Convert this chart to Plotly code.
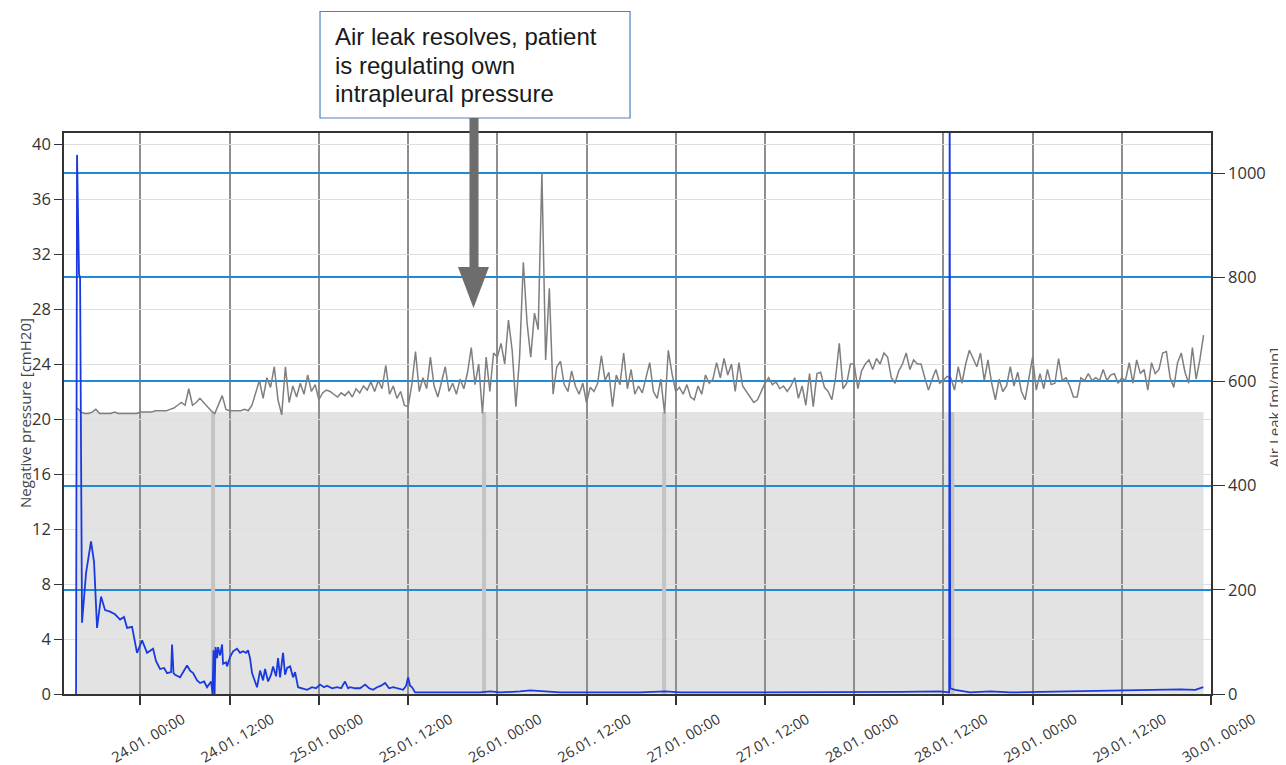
import pandas as pd
import plotly.graph_objects as go

# ---------------- data ----------------
BASE = pd.Timestamp("2024-01-24 00:00")

# negative pressure (grey line), sampled every 30 min from 23.01 15:30
pressure_start = "2024-01-23 15:30"
pressure_step = "30min"
pressure_cmh2o = [
    20.8, 20.5, 20.4, 20.4, 20.5, 20.7, 20.4, 20.4, 20.4, 20.4, 20.5, 20.4, 20.4, 20.4, 20.4, 20.4, 20.4,
    20.5, 20.5, 20.5, 20.5, 20.6, 20.6, 20.6, 20.6, 20.7, 20.8, 21.0, 21.2, 21.0, 22.2, 21.0, 21.2, 21.5, 21.2, 20.9, 20.6, 20.4, 21.0, 21.7, 20.7,
    20.6, 20.6, 20.6, 20.6, 20.7, 20.6, 21.0, 21.9, 22.8, 21.5, 23.0, 22.3, 23.8, 21.4, 20.3, 23.8, 21.2, 22.4, 21.6, 22.6, 21.8, 23.2, 22.0, 22.5,
    21.4, 21.9, 22.1, 22.0, 21.8, 21.6, 21.9, 21.7, 22.0, 21.6, 22.2, 21.9, 22.4, 22.1, 22.7, 22.0, 22.8, 22.2, 23.9, 21.8, 22.4, 21.5, 22.0, 21.0,
    20.9, 22.5, 24.9, 22.0, 23.0, 22.2, 24.5, 22.4, 21.6, 22.8, 23.8, 22.0, 22.6, 21.8, 22.9, 22.2, 23.4, 25.2, 22.5, 24.0, 20.4, 24.5, 22.0, 24.8,
    24.5, 25.5, 24.0, 27.2, 25.0, 20.9, 24.5, 31.4, 27.0, 24.5, 27.7, 26.5, 37.9, 24.3, 29.5, 21.8, 23.8, 24.2, 22.5, 22.0, 23.5, 22.4, 21.8, 22.6,
    21.2, 22.3, 22.0, 22.6, 24.6, 22.8, 23.4, 20.9, 23.2, 22.5, 24.8, 22.2, 23.6, 21.8, 22.4, 21.9, 23.0, 24.1, 22.0, 21.5, 22.9, 20.4, 25.0, 23.3,
    22.0, 22.3, 21.8, 22.5, 21.6, 21.4, 22.4, 21.8, 23.2, 22.6, 22.9, 24.1, 23.0, 24.4, 23.2, 24.0, 22.0, 24.1, 22.4, 22.0, 21.6, 21.2, 21.4, 22.0,
    22.6, 23.0, 22.5, 22.7, 22.2, 22.4, 22.0, 22.4, 23.0, 21.5, 22.4, 21.0, 23.3, 20.9, 23.3, 23.4, 22.3, 22.0, 21.4, 23.0, 25.5, 22.2, 22.6, 24.0,
    24.0, 22.2, 23.5, 24.0, 24.3, 23.6, 24.4, 24.0, 24.8, 24.5, 23.0, 22.6, 23.5, 24.0, 24.8, 23.6, 24.3, 24.0, 24.0, 23.0, 22.1, 22.9, 23.6, 22.6,
    22.8, 23.1, 23.0, 22.1, 23.8, 22.6, 24.0, 25.0, 24.4, 23.8, 24.8, 22.8, 24.3, 22.6, 21.4, 22.9, 22.0, 22.4, 23.8, 22.4, 23.4, 22.0, 21.4, 23.0,
    24.5, 22.1, 23.3, 22.2, 23.6, 22.5, 22.6, 24.4, 22.8, 23.0, 22.4, 21.6, 21.6, 23.0, 22.8, 23.3, 22.8, 23.0, 22.8, 23.6, 22.8, 23.2, 23.3, 22.6,
    23.0, 22.8, 24.1, 22.6, 24.3, 23.3, 23.6, 22.1, 24.1, 23.3, 23.6, 24.8, 24.9, 23.0, 22.3, 24.1, 24.8, 23.4, 22.6, 25.2, 22.9, 24.3, 26.1,
]

# air leak (blue line): hours relative to 24.01 00:00 and ml/min
leak_hours = [
    -8.66, -8.53, -8.26, -8.12, -7.86, -7.32, -6.65, -6.24, -5.84, -5.30, -4.76, -4.09, -3.42, -2.74, -2.21, -1.80,
    -1.13, -0.46, 0.22, 0.89, 1.70, 2.10, 2.64, 3.18, 3.58, 4.12, 4.25, 4.45, 4.65, 5.33, 5.87, 6.27, 6.67, 7.08,
    7.62, 8.02, 8.56, 8.96, 9.50, 9.70, 9.83, 9.97, 10.10, 10.31, 10.44, 10.71, 10.98, 11.11, 11.52, 11.65, 12.05,
    12.46, 12.99, 13.40, 13.80, 14.21, 14.47, 14.74, 15.01, 15.41, 15.68, 16.09, 16.49, 16.76, 17.17, 17.57, 17.84,
    18.24, 18.51, 18.78, 19.18, 19.45, 19.72, 20.13, 20.53, 20.80, 21.20, 21.74, 22.41, 23.08, 23.62, 24.16, 24.70,
    25.10, 25.78, 26.45, 26.99, 27.52, 27.93, 28.20, 28.87, 29.54, 30.22, 30.76, 31.29, 31.83, 32.37, 32.91, 33.45,
    33.99, 34.66, 35.33, 35.74, 36.00, 36.27, 36.54, 36.94, 38.96, 42.99, 45.68, 47.03, 48.37, 51.06, 52.41, 54.43,
    56.45, 61.83, 67.21, 70.57, 72.59, 77.97, 83.35, 88.73, 94.11, 102.18, 107.56, 108.78, 108.85, 108.92, 109.59,
    111.61, 114.30, 116.99, 121.03, 125.06, 129.10, 133.13, 137.17, 139.86, 141.88, 142.96,
]
leak_ml_min = [
    0, 1035, 805, 800, 137, 232, 293, 253, 127, 187, 161, 158, 153, 143, 148, 127,
    129, 79, 103, 79, 87, 63, 48, 50, 40, 42, 95, 40, 37, 32, 45, 55, 45, 40,
    26, 21, 24, 13, 24, 0, 84, 0, 90, 69, 90, 74, 95, 58, 61, 53, 71,
    82, 87, 79, 82, 79, 84, 69, 40, 26, 13, 45, 26, 48, 24, 37, 53,
    34, 69, 32, 79, 37, 50, 53, 32, 42, 13, 11, 8, 13, 11, 18, 13,
    16, 11, 13, 11, 24, 11, 13, 11, 11, 18, 11, 8, 13, 16, 21, 11,
    13, 11, 8, 16, 32, 16, 13, 3, 3, 4, 3, 5, 3, 5, 7, 5,
    3, 3, 3, 5, 3, 3, 3, 3, 4, 4, 5, 3, 1200, 11, 8,
    3, 5, 3, 4, 5, 7, 8, 8, 9, 8, 13,
]

# suction setting (grey area) and short drop-outs of the setting
setpoint_start = "2024-01-23 15:30"
setpoint_end = "2024-01-29 23:00"
setpoint_cmh2o = 20.5
dropout_hours = [9.77, 46.22, 70.44, 109.2]

x_range = ["2024-01-23 13:43", "2024-01-30 00:00"]
left_ticks = [0, 4, 8, 12, 16, 20, 24, 28, 32, 36, 40]
right_ticks = [0, 200, 400, 600, 800, 1000]
left_range = [0, 40.8]
right_range = [0, 1077]

left_title = "Negative pressure [cmH20]"
right_title = "Air Leak [ml/min]"
note_lines = ["Air leak resolves, patient", "is regulating own", "intrapleural pressure"]

# ---------------- figure ----------------
p_times = pd.date_range(pressure_start, periods=len(pressure_cmh2o), freq=pressure_step)
leak_times = [BASE + pd.Timedelta(hours=h) for h in leak_hours]

drop_x, drop_y = [], []
for h in dropout_hours:
    t = BASE + pd.Timedelta(hours=h)
    drop_x += [t, t, None]
    drop_y += [0, setpoint_cmh2o, None]

fig = go.Figure()
fig.add_trace(go.Scatter(x=drop_x, y=drop_y, mode="lines",
                         line=dict(color="#c4c4c4", width=4), hoverinfo="skip"))
fig.add_trace(go.Scatter(x=p_times, y=pressure_cmh2o, mode="lines",
                         line=dict(color="#7f7f7f", width=1.5)))
fig.add_trace(go.Scatter(x=leak_times, y=leak_ml_min, mode="lines", yaxis="y2",
                         line=dict(color="#1a3ae0", width=1.8)))

fig.add_shape(type="rect", xref="x", yref="y", x0=setpoint_start, x1=setpoint_end,
              y0=0, y1=setpoint_cmh2o, fillcolor="#e3e3e3", line=dict(width=0), layer="below")

# annotation box + arrow (paper coordinates)
fig.add_shape(type="rect", xref="paper", yref="paper", x0=0.2232, x1=0.4935, y0=1.0267, y1=1.2166,
              fillcolor="white", line=dict(color="#4f81bd", width=1.2), layer="above")
fig.add_shape(type="rect", xref="paper", yref="paper", x0=0.3535, x1=0.3614, y0=0.758, y1=1.0267,
              fillcolor="#6d6d6d", line=dict(width=0), layer="above")
fig.add_shape(type="path", xref="paper", yref="paper",
              path="M 0.3435 0.7611 L 0.3705 0.7611 L 0.3570 0.6881 Z",
              fillcolor="#6d6d6d", line=dict(width=0), layer="above")
for line_text, ypos in zip(note_lines, [1.1720, 1.1212, 1.0704]):
    fig.add_annotation(xref="paper", yref="paper", x=0.2345, y=ypos, xanchor="left", yanchor="middle",
                       text=line_text, showarrow=False, align="left",
                       font=dict(family="Liberation Sans, Arial, sans-serif", size=24, color="#1a1a1a"))

title_font = dict(family="Open Sans, sans-serif", size=15, color="#444444")
fig.add_annotation(xref="paper", yref="paper", x=-0.0344, y=0.5, xanchor="center", yanchor="middle",
                   text=left_title, textangle=-90, showarrow=False, font=title_font)
fig.add_annotation(xref="paper", yref="paper", x=1.0545, y=0.51, xanchor="center", yanchor="middle",
                   text=right_title, textangle=-90, showarrow=False, font=title_font)

tick_font = dict(family="Open Sans, sans-serif", size=16.5, color="#333333")
xtick_font = dict(family="Open Sans, sans-serif", size=14.5, color="#333333")

# the page body has an 8px margin: figure is offset by (8, 8)
fig.update_layout(
    width=1278, height=757,
    margin=dict(l=56, r=75, t=125, b=71, pad=0, autoexpand=False),
    paper_bgcolor="white", plot_bgcolor="white",
    showlegend=False,
    xaxis=dict(type="date", range=x_range, tick0="2024-01-24 00:00", dtick=43200000,
               tickformat="%d.%m. %H:%M", tickangle=-30, ticks="outside", ticklen=9,
               tickcolor="#333333", tickwidth=1.5, tickfont=xtick_font,
               ticklabelshift=42, ticklabelstandoff=1, automargin=False,
               showgrid=True, gridcolor="#8e8e8e", gridwidth=1.5,
               showline=True, linecolor="#333333", linewidth=1.5, mirror=True, zeroline=False),
    yaxis=dict(range=left_range, tickvals=left_ticks, ticks="outside", ticklen=8,
               tickcolor="#333333", tickwidth=1.2, tickfont=tick_font, automargin=False,
               showgrid=True, gridcolor="#dedede", gridwidth=1,
               showline=True, linecolor="#333333", linewidth=1.5, mirror=True, zeroline=False),
    yaxis2=dict(range=right_range, tickvals=right_ticks, overlaying="y", side="right",
                ticks="outside", ticklen=12, tickcolor="#333333", tickwidth=1.2, tickfont=tick_font,
                automargin=False,
                showgrid=True, gridcolor="#1f8ad6", gridwidth=1.5,
                showline=True, linecolor="#333333", linewidth=1.5, zeroline=False),
)

fig.write_html("out.html")
